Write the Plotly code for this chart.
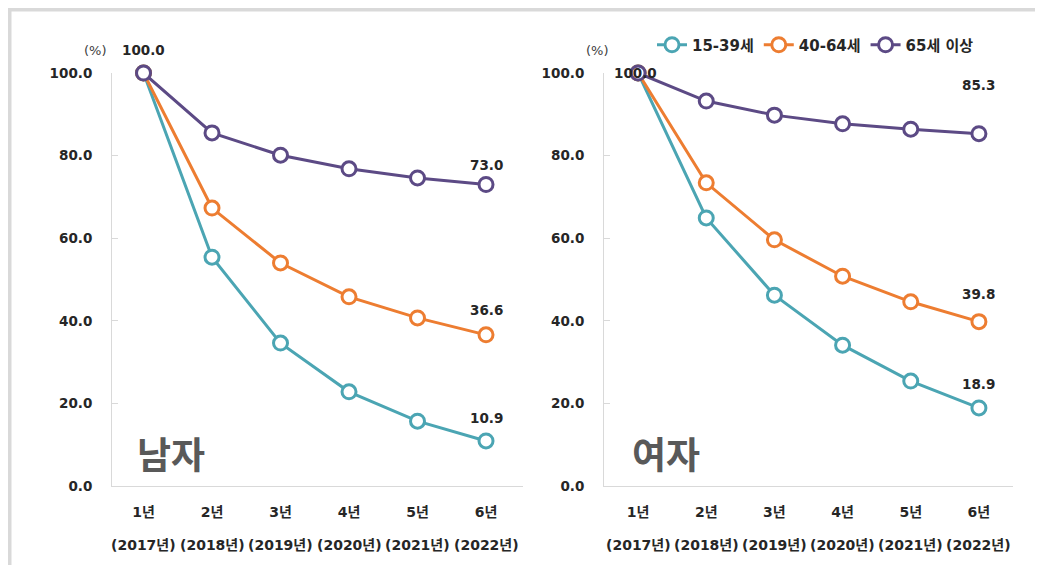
import plotly.graph_objects as go

categories = ["1년", "2년", "3년", "4년", "5년", "6년"]
years = ["(2017년)", "(2018년)", "(2019년)", "(2020년)", "(2021년)", "(2022년)"]
series_names = ["15-39세", "40-64세", "65세 이상"]

male_15_39 = [100.0, 55.4, 34.6, 22.8, 15.7, 10.9]
male_40_64 = [100.0, 67.3, 54.0, 45.8, 40.7, 36.6]
male_65 = [100.0, 85.5, 80.1, 76.8, 74.6, 73.0]

female_15_39 = [100.0, 64.9, 46.2, 34.1, 25.4, 18.9]
female_40_64 = [100.0, 73.4, 59.6, 50.8, 44.6, 39.8]
female_65 = [100.0, 93.2, 89.8, 87.7, 86.4, 85.3]

y_ticks = [0, 20, 40, 60, 80, 100]
colors = ["#4BA5B3", "#ED7D31", "#5C4A85"]

# page has an 8px body margin; figure is sized to fit inside the window
OFF = 8
W, H = 1043 - 2 * OFF, 573 - 2 * OFF
FONT = "DejaVu Sans, Noto Sans CJK KR"

fig = go.Figure()

panels = [
    ("x", "y", [male_15_39, male_40_64, male_65], True),
    ("x2", "y2", [female_15_39, female_40_64, female_65], False),
]
for xa, ya, data, show in panels:
    for name, vals, col in zip(series_names, data, colors):
        fig.add_trace(go.Scatter(
            x=categories, y=vals, name=name, mode="lines+markers",
            xaxis=xa, yaxis=ya, showlegend=show, cliponaxis=False,
            line=dict(color=col, width=3),
            marker=dict(symbol="circle", size=14, color="white",
                        line=dict(color=col, width=3)),
        ))

def px_x(p):
    return (p - OFF) / W

def px_y(p):
    return (H - (p - OFF)) / H

axis_common = dict(
    showgrid=False, zeroline=False, showline=True, linecolor="#D9D9D9", linewidth=1,
    automargin=False,
)
xdom1 = [px_x(112), px_x(523)]
xdom2 = [px_x(604), px_x(1013)]
ydom = [px_y(486), px_y(73)]

tick_font = dict(family=FONT, size=13.5, color="#262626", weight="bold")
for key, dom, anchor, rng in [("xaxis", xdom1, "y", [-0.46, 5.54]),
                              ("xaxis2", xdom2, "y2", [-0.5, 5.5])]:
    fig.layout[key] = dict(
        domain=dom, anchor=anchor, type="category", range=rng,
        tickvals=categories, ticktext=categories, ticks="",
        tickfont=dict(family=FONT, size=14, color="#262626", weight="bold"),
        ticklabelstandoff=13, **axis_common,
    )
for key, dom, anchor in [("yaxis", ydom, "x"), ("yaxis2", ydom, "x2")]:
    fig.layout[key] = dict(
        domain=dom, anchor=anchor, range=[0, 100],
        tickvals=y_ticks, ticktext=[f"{v:.1f}" for v in y_ticks],
        ticks="inside", ticklen=6, tickcolor="#D9D9D9",
        tickfont=tick_font, ticklabelstandoff=16, **axis_common,
    )

ann = []
lab_font = dict(family=FONT, size=13.5, color="#262626", weight="bold")
# year sub-labels
for xa in ["x", "x2"]:
    for c, yr in zip(categories, years):
        ann.append(dict(x=c, xref=xa, y=px_y(545), yref="paper", yanchor="middle",
                        xanchor="center", text=yr, showarrow=False,
                        font=dict(family=FONT, size=14, color="#262626", weight="bold")))
# start labels
ann.append(dict(x=categories[0], xref="x", y=male_65[0], yref="y", text=f"{male_65[0]:.1f}",
                showarrow=False, yshift=23, font=lab_font))
ann.append(dict(x=categories[0], xref="x2", y=female_65[0], yref="y2", text=f"{female_65[0]:.1f}",
                showarrow=False, xshift=-3, yshift=0, font=lab_font))
# end labels (vertical offsets per label)
end_shifts = {"x": [23, 25, 20], "x2": [24, 28, 49]}
for xa, ya, data in [("x", "y", [male_15_39, male_40_64, male_65]),
                     ("x2", "y2", [female_15_39, female_40_64, female_65])]:
    for vals, ys in zip(data, end_shifts[xa]):
        ann.append(dict(x=categories[-1], xref=xa, y=vals[-1], yref=ya, text=f"{vals[-1]:.1f}",
                        showarrow=False, yshift=ys, font=lab_font))
# percent units
for xp in [95, 597]:
    ann.append(dict(x=px_x(xp), xref="paper", y=px_y(50), yref="paper",
                    xanchor="center", yanchor="middle", text="(%)", showarrow=False,
                    font=dict(family=FONT, size=13, color="#404040")))
# panel titles
for xp, t in [(171, "남자"), (666, "여자")]:
    ann.append(dict(x=px_x(xp), xref="paper", y=px_y(453), yref="paper",
                    xanchor="center", yanchor="middle", text=t, showarrow=False,
                    font=dict(family="Noto Sans CJK KR", size=37, color="#595959", weight="bold")))

fig.update_layout(
    width=W, height=H,
    margin=dict(l=0, r=0, t=0, b=0, pad=0, autoexpand=False),
    paper_bgcolor="white", plot_bgcolor="white",
    font=dict(family=FONT),
    annotations=ann,
    shapes=[dict(type="rect", xref="paper", yref="paper",
                 x0=0, x1=1.1, y0=-0.1, y1=1,
                 line=dict(color="#D9D9D9", width=7))],
    legend=dict(orientation="h", x=px_x(652), xanchor="left", y=px_y(45), yanchor="middle",
                font=dict(family=FONT, size=15, color="#262626", weight="bold"),
                bgcolor="rgba(0,0,0,0)", itemwidth=30, tracegroupgap=0),
    hovermode=False,
)

fig.write_html("out.html")
